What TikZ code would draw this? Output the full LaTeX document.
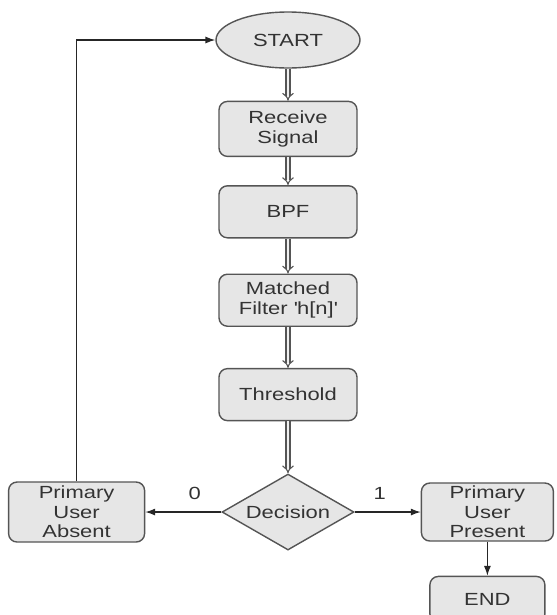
\documentclass[tikz,border=0pt]{standalone}
\usepackage{fontspec}
\setmainfont[FakeStretch=1.25]{Liberation Sans}
\usepackage{tikz}
\usetikzlibrary{arrows.meta, positioning, shapes.geometric}
\definecolor{cFill}{HTML}{E6E6E6}
\definecolor{cLine}{HTML}{555555}
\definecolor{cText}{HTML}{333333}

\begin{document}
\begin{tikzpicture}[
  box/.style 2 args={
    draw=cLine, fill=cFill, rounded corners=6pt, line width=1pt,
    minimum width=#1, minimum height=#2, align=center, inner sep=1pt,
  },
  term/.style={ellipse, draw=cLine, fill=cFill, line width=1pt,
    minimum width=3.6cm, minimum height=1.4cm},
  choice/.style={diamond, draw=cLine, fill=cFill, line width=1pt,
    aspect=1.7, inner sep=0pt, minimum width=3.3cm, minimum height=1.9cm},
  arr/.style={-{Latex[length=7pt,width=5pt]}, line width=0.9pt, draw=black!85},
  dblarr/.style={-{Implies}, draw=cLine, double=cFill!60,
    double distance=2pt, line width=0.8pt},
  bitlbl/.style={font=\fontsize{12.5}{14}\selectfont, text=black!80},
  every node/.style={font=\fontsize{12.5}{14}\selectfont, text=cText},
]
\useasboundingbox (-7.2,1.0) rectangle (6.725,-14.375);

%% ── Main column ─────────────────────────────────────────────────────
\node[term] (start) at (0,0) {START};
\node[box={3.45cm}{1.375cm}, below=0.8cm of start] (recv) {Receive\\Signal};
\node[box={3.45cm}{1.3cm}, below=0.7cm of recv] (bpf) {BPF};
\node[box={3.45cm}{1.3cm}, below=0.875cm of bpf] (mf)
  {Matched\\Filter \textquotesingle h[n]\textquotesingle};
\node[box={3.45cm}{1.3cm}, below=1.025cm of mf] (thr) {Threshold};
\node[choice, below=1.3cm of thr] (dec) {Decision};

%% ── Outcomes ────────────────────────────────────────────────────────
\node[box={3.4cm}{1.5cm}, left=1.9cm of dec] (absent) {Primary\\User\\Absent};
\node[box={3.3cm}{1.45cm}, right=1.65cm of dec] (present) {Primary\\User\\Present};
\node[box={2.875cm}{1.15cm}, below=0.85cm of present] (stop) {END};

%% ── Arrows ──────────────────────────────────────────────────────────
\draw[dblarr] (start) -- (recv);
\draw[dblarr] (recv) -- (bpf);
\draw[dblarr] (bpf) -- (mf);
\draw[dblarr] (mf) -- (thr);
\draw[dblarr] (thr) -- (dec);

\draw[arr] (dec) -- (absent) node[pos=0.35, above=5pt, bitlbl] {0};
\draw[arr] (dec) -- (present) node[pos=0.38, above=5pt, bitlbl] {1};
\draw[arr] (present) -- (stop);

% loop back to the start when no user is found
\draw[arr] (absent.north) |- (start.west);

\end{tikzpicture}
\end{document}
